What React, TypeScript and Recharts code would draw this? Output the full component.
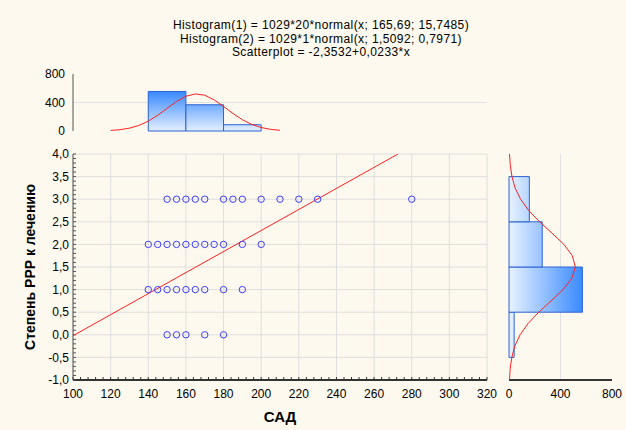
import React from 'react';
import { ScatterChart, Scatter, XAxis, YAxis, CartesianGrid, ReferenceArea } from 'recharts';

const FONT = '"Liberation Sans", Arial, sans-serif';
const BG = '#fdf9ee';

const titleLines = [
    'Histogram(1) = 1029*20*normal(x; 165,69; 15,7485)',
    'Histogram(2) = 1029*1*normal(x; 1,5092; 0,7971)',
    'Scatterplot = -2,3532+0,0233*x',
];

// САД values for each level of РРР
const sadAt3 = [150, 155, 160, 165, 170, 180, 185, 190, 200, 210, 220, 230, 280];
const sadAt2 = [140, 145, 150, 155, 160, 165, 170, 175, 180, 190, 200];
const sadAt1 = [140, 145, 150, 155, 160, 165, 170, 180, 190];
const sadAt0 = [150, 155, 160, 170, 180];

// regression line ends
const regX = [100, 272.7];
const regY = [-0.02, 4.0];

// top histogram (САД)
const sadBinFrom = [140, 160, 180];
const sadBinTo = [160, 180, 200];
const sadCounts = [555, 368, 88];
const sadCurveX = [120, 125, 130, 135, 140, 145, 150, 155, 160, 165, 170, 175, 180, 185, 190, 195, 200, 205, 210];
const sadCurveY = [8, 19, 40, 78, 138, 220, 317, 414, 488, 520, 502, 437, 345, 246, 158, 92, 49, 23, 10];

// right histogram (РРР level)
const levelFrom = [-0.5, 0.5, 1.5, 2.5];
const levelTo = [0.5, 1.5, 2.5, 3.5];
const levelCounts = [40, 570, 258, 158];
const levelCurveY = [-1, -0.75, -0.5, -0.25, 0, 0.25, 0.5, 0.75, 1, 1.25, 1.5, 1.75, 2, 2.25, 2.5, 2.75, 3, 3.25, 3.5, 3.75, 4];
const levelCurveV = [4, 9, 22, 45, 86, 148, 231, 327, 420, 488, 515, 492, 426, 334, 238, 153, 90, 47, 23, 10, 4];

const sadTicks = [100, 120, 140, 160, 180, 200, 220, 240, 260, 280, 300, 320];
const levelTicks = [-1, -0.5, 0, 0.5, 1, 1.5, 2, 2.5, 3, 3.5, 4];
const countTicks = [0, 400, 800];

const steps = (from: number, to: number, step: number) => {
    const out: number[] = [];
    for (let v = from; v <= to + 1e-9; v += step) out.push(Math.round(v * 1000) / 1000);
    return out;
};
const sadMinor = steps(100, 320, 4);
const levelMinor = steps(-1, 4, 0.1);

const scatterData = [
    ...sadAt3.map((x) => ({ x, y: 3 })),
    ...sadAt2.map((x) => ({ x, y: 2 })),
    ...sadAt1.map((x) => ({ x, y: 1 })),
    ...sadAt0.map((x) => ({ x, y: 0 })),
];
const regData = regX.map((x, i) => ({ x, y: regY[i] }));
const sadCurve = sadCurveX.map((x, i) => ({ x, y: sadCurveY[i] }));
const levelCurve = levelCurveY.map((y, i) => ({ x: levelCurveV[i], y }));

const tickStyle = { fill: '#000', fontSize: 12, fontFamily: FONT };
const frame = '#555';
const frameDark = '#333';

const NoShape = () => <g />;
const Ring = (props: any) => (
    <circle cx={props.cx} cy={props.cy} r={3.2} fill="none" stroke="#3c3cff" strokeWidth={1} />
);

const YTitle = (props: any) => {
    const { viewBox } = props;
    const cx = viewBox.x + 30;
    const cy = viewBox.y + viewBox.height / 2;
    return (
        <text x={cx} y={cy} transform={`rotate(-90 ${cx} ${cy})`} textAnchor="middle" dominantBaseline="central"
            style={{ fontFamily: FONT, fontSize: 14, fontWeight: 'bold', fill: '#000' }}>
            Степень РРР к лечению
        </text>
    );
};

const fmtComma = (v: number) => (levelTicks.includes(v) ? v.toFixed(1).replace('.', ',') : '');

const layer: React.CSSProperties = { position: 'absolute', left: 0, top: 0 };

const MainPlot = () => (
    <div style={layer}>
        <ScatterChart width={626} height={430} margin={{ top: 154, right: 139, bottom: 0, left: 0 }}>
            <CartesianGrid stroke="#dedede" verticalValues={sadTicks} horizontalValues={levelTicks} />
            <XAxis dataKey="x" type="number" domain={[100, 320]} allowDataOverflow ticks={sadMinor} interval={0}
                tickSize={-3} tickMargin={12} height={50} tick={tickStyle}
                tickFormatter={(v) => (sadTicks.includes(v) ? String(v) : '')}
                axisLine={{ stroke: frameDark, strokeWidth: 2 }} tickLine={{ stroke: frameDark }}
                label={{ value: 'САД', position: 'insideBottom', offset: 8, style: { fontFamily: FONT, fontSize: 15, fontWeight: 'bold', fill: '#000' } }} />
            <XAxis xAxisId="top" orientation="top" type="number" domain={[100, 320]} allowDataOverflow ticks={sadMinor}
                interval={0} tickSize={-3} tick={false} height={0} axisLine={{ stroke: frame }} tickLine={{ stroke: frame }} />
            <YAxis dataKey="y" type="number" domain={[-1, 4]} allowDataOverflow ticks={levelMinor} interval={0}
                tickSize={-3} tickMargin={7} width={73} tick={tickStyle} tickFormatter={fmtComma}
                axisLine={{ stroke: frame }} tickLine={{ stroke: frame }} label={<YTitle />} />
            <YAxis yAxisId="right" orientation="right" type="number" domain={[-1, 4]} allowDataOverflow ticks={levelMinor}
                interval={0} tickSize={-3} tick={false} width={0} axisLine={{ stroke: frameDark, strokeWidth: 2 }} tickLine={{ stroke: frameDark }} />
            <Scatter data={regData} line={{ stroke: '#ff2020', strokeWidth: 1 }} shape={NoShape} isAnimationActive={false} />
            <Scatter data={scatterData} shape={Ring} isAnimationActive={false} />
        </ScatterChart>
    </div>
);

const TopHistogram = () => (
    <div style={layer}>
        <ScatterChart width={626} height={430} margin={{ top: 74, right: 139, bottom: 299, left: 0 }}>
            <defs>
                <linearGradient id="gradV" x1="0" y1="131" x2="0" y2="92" gradientUnits="userSpaceOnUse">
                    <stop offset="0" stopColor="#e4efff" />
                    <stop offset="1" stopColor="#3a8bff" />
                </linearGradient>
            </defs>
            <CartesianGrid stroke="#e2e2e2" vertical={false} horizontalValues={[400]} />
            <XAxis dataKey="x" type="number" domain={[100, 320]} allowDataOverflow ticks={sadTicks} interval={0}
                tickSize={-3} tick={false} height={0} axisLine={{ stroke: frameDark, strokeWidth: 2 }} tickLine={{ stroke: frameDark }} />
            <XAxis xAxisId="top" orientation="top" type="number" domain={[100, 320]} allowDataOverflow ticks={sadTicks}
                interval={0} tickSize={-3} tick={false} height={0} axisLine={{ stroke: frame }} tickLine={{ stroke: frame }} />
            <YAxis dataKey="y" type="number" domain={[0, 800]} allowDataOverflow ticks={countTicks} interval={0}
                tickSize={0} tickMargin={8} width={73} tick={tickStyle} tickLine={false} axisLine={{ stroke: frame }} />
            <YAxis yAxisId="right" orientation="right" type="number" domain={[0, 800]} allowDataOverflow ticks={[400]}
                interval={0} tickSize={-3} tick={false} width={0} axisLine={{ stroke: frameDark, strokeWidth: 2 }} tickLine={{ stroke: frameDark }} />
            {sadCounts.map((c, i) => (
                <ReferenceArea key={i} x1={sadBinFrom[i]} x2={sadBinTo[i]} y1={0} y2={c} fill="url(#gradV)" fillOpacity={1}
                    stroke="#2a62d4" strokeWidth={1} ifOverflow="visible" />
            ))}
            <Scatter data={sadCurve} line={{ stroke: '#ff2020', strokeWidth: 1 }} shape={NoShape} isAnimationActive={false} />
        </ScatterChart>
    </div>
);

const RightHistogram = () => (
    <div style={layer}>
        <ScatterChart width={626} height={430} margin={{ top: 154, right: 14, bottom: 0, left: 509 }}>
            <defs>
                <linearGradient id="gradH" x1="509" y1="0" x2="582" y2="0" gradientUnits="userSpaceOnUse">
                    <stop offset="0" stopColor="#e8f2ff" />
                    <stop offset="1" stopColor="#3a8bff" />
                </linearGradient>
            </defs>
            <CartesianGrid stroke="#e2e2e2" horizontal={false} verticalValues={[400]} />
            <XAxis dataKey="x" type="number" domain={[0, 800]} allowDataOverflow ticks={countTicks} interval={0}
                tickSize={0} tickMargin={9} height={50} tick={tickStyle} tickLine={false}
                axisLine={{ stroke: frameDark, strokeWidth: 2 }} />
            <XAxis xAxisId="top" orientation="top" type="number" domain={[0, 800]} allowDataOverflow ticks={countTicks}
                interval={0} tickSize={0} tick={false} tickLine={false} height={0} axisLine={{ stroke: frame }} />
            <YAxis dataKey="y" type="number" domain={[-1, 4]} allowDataOverflow ticks={levelTicks} interval={0}
                tickSize={0} tick={false} tickLine={false} width={0} axisLine={{ stroke: frame }} />
            <YAxis yAxisId="right" orientation="right" type="number" domain={[-1, 4]} allowDataOverflow ticks={levelTicks}
                interval={0} tickSize={-3} tick={false} width={0} axisLine={{ stroke: frameDark, strokeWidth: 2 }} tickLine={{ stroke: frameDark }} />
            {levelCounts.map((c, i) => (
                <ReferenceArea key={i} x1={0} x2={c} y1={levelFrom[i]} y2={levelTo[i]} fill="url(#gradH)" fillOpacity={1}
                    stroke="#2a62d4" strokeWidth={1} ifOverflow="visible" />
            ))}
            <Scatter data={levelCurve} line={{ stroke: '#ff2020', strokeWidth: 1 }} shape={NoShape} isAnimationActive={false} />
        </ScatterChart>
    </div>
);

export default function App() {
    return (
        <div style={{ position: 'absolute', left: 0, top: 0, width: 626, height: 430, background: BG, fontFamily: FONT }}>
            {titleLines.map((t, i) => (
                <div key={i} style={{ position: 'absolute', left: 0, width: 642, top: 19 + i * 13.5, textAlign: 'center', fontSize: 12, lineHeight: '12px', letterSpacing: 0.4, color: '#000', whiteSpace: 'nowrap' }}>
                    {t}
                </div>
            ))}
            <TopHistogram />
            <MainPlot />
            <RightHistogram />
        </div>
    );
}
